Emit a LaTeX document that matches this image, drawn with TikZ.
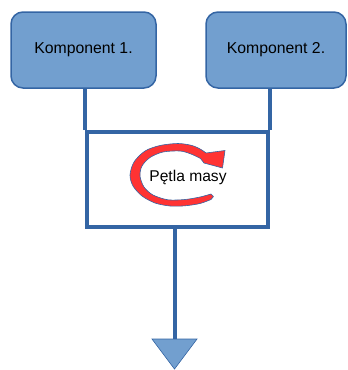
\documentclass[tikz,border=0pt]{standalone}
\usepackage{fontspec}
\setmainfont{Liberation Sans}
\definecolor{boxfill}{HTML}{729FCF}
\definecolor{boxline}{HTML}{3465A4}
\definecolor{loopred}{HTML}{FF3333}
\begin{document}
\begin{tikzpicture}[x=1pt,y=-1pt,
  comp/.style={draw=boxline, line width=1.5pt, fill=boxfill, rounded corners=12pt,
    minimum width=145pt, minimum height=76pt, inner sep=0pt,
    font=\fontsize{15.8}{18}\selectfont},
  wire/.style={draw=boxline, line width=4pt},
  txt/.style={font=\fontsize{15.6}{18}\selectfont, inner sep=0pt},
  redarrow/.style={fill=loopred, draw=boxline, line width=0.6pt, line join=round}
  ]
\useasboundingbox (0,0) rectangle (348,370);
\node[comp] (k1) at (83.5,50) {Komponent 1.};
\node[comp, minimum width=140pt] (k2) at (276,50) {Komponent 2.};
\node[wire, minimum width=181pt, minimum height=95pt, inner sep=0pt] (loop) at (177.5,179.5) {};
\draw[wire] (k1.south -| loop.north west) -- (loop.north west);
\draw[wire] (k2.south -| loop.north east) -- (loop.north east);
\coordinate (atop) at (174.5,339);
\draw[wire] (loop.south -| atop) -- (atop);
\filldraw[fill=boxfill, draw=boxline, line width=0.6pt] (152,339) -- (197,339) -- (174.5,369) -- cycle;
% circular arrow
\path[redarrow]
  plot[smooth] coordinates {(211,199.5) (200,203.5) (185,205.8) (170,206) (155,203) (142,196) (133,186) (130,175) (134,162) (145,151) (160,145.5) (178,143.5) (192,145.5) (201,149.5) (206,153)}
  -- (225,150.5) -- (222.5,168) -- (204,163) --
  plot[smooth] coordinates {(200.5,158.5) (191,154) (180,151) (163,152) (150,157.5) (142,166) (140,176) (144,187) (153,195) (168,199.8) (185,199.5) (200,197) (211,194)}
  -- (213.5,196.5) -- cycle;
\node[txt] (lbl) at (188,177) {Pętla masy};
\end{tikzpicture}
\end{document}
